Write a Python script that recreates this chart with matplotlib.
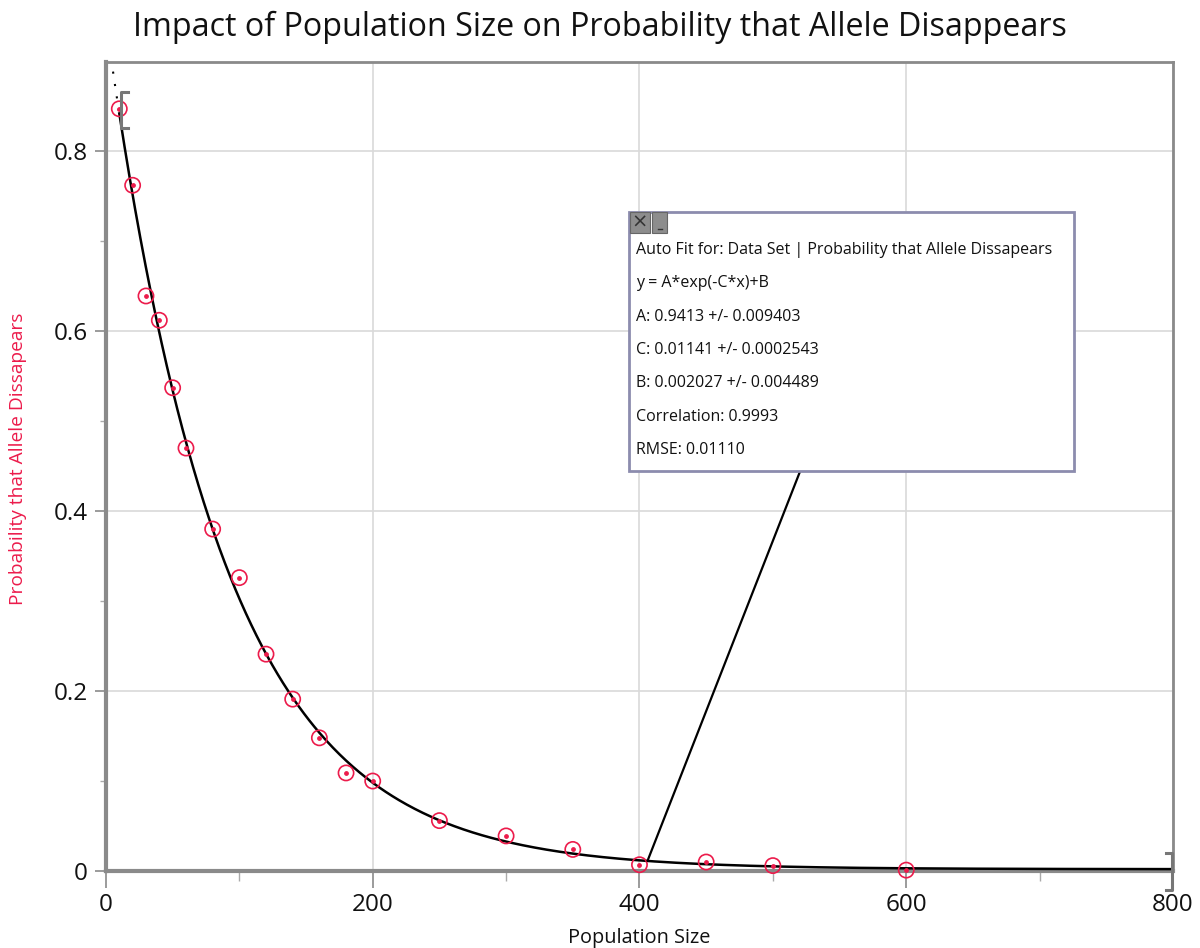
import numpy as np
import matplotlib
matplotlib.use("Agg")
import matplotlib.pyplot as plt
from matplotlib.patches import Rectangle, ConnectionPatch

plt.rcParams['font.family'] = ['Open Sans', 'DejaVu Sans']

# Data
population = [10, 20, 30, 40, 50, 60, 80, 100, 120, 140, 160, 180, 200,
              250, 300, 350, 400, 450, 500, 600]
probability = [0.847, 0.762, 0.639, 0.612, 0.537, 0.470, 0.380, 0.326, 0.241,
               0.191, 0.148, 0.109, 0.100, 0.056, 0.039, 0.024, 0.007, 0.010,
               0.006, 0.001]

# Fit parameters (shown in the fit box)
A = 0.9413
C = 0.01141
B = 0.002027
fit_lines = [
    "Auto Fit for: Data Set | Probability that Allele Dissapears",
    "y = A*exp(-C*x)+B",
    "A: 0.9413 +/- 0.009403",
    "C: 0.01141 +/- 0.0002543",
    "B: 0.002027 +/- 0.004489",
    "Correlation: 0.9993",
    "RMSE: 0.01110",
]

x_ticks = [0, 200, 400, 600, 800]
y_ticks = [0, 0.2, 0.4, 0.6, 0.8]
y_tick_labels = ["0", "0.2", "0.4", "0.6", "0.8"]

red = '#ec1b4b'
spine_gray = '#8a8a8a'

fig = plt.figure(figsize=(12, 9.48), dpi=100)
ax = fig.add_axes([0.0883, 0.0812, 0.8892, 0.8534])
ax.set_xlim(0, 800)
ax.set_ylim(0, 0.899)

# Grid
ax.set_xticks(x_ticks)
ax.set_yticks(y_ticks)
ax.set_yticklabels(y_tick_labels)
ax.set_xticks([100, 300, 500, 700], minor=True)
ax.set_yticks([0.1, 0.3, 0.5, 0.7], minor=True)
ax.grid(True, which='major', color='#d9d9d9', linewidth=1.2)
ax.set_axisbelow(True)

ax.tick_params(which='major', direction='out', length=8, width=1.2, color=spine_gray,
               labelsize=17.5, pad=5, labelcolor='#111111')
ax.tick_params(which='minor', direction='out', length=4, width=1, color='#aaaaaa')
ax.tick_params(axis='x', which='major', length=12, pad=4)
ax.tick_params(axis='x', which='minor', length=7)

for side in ['left', 'bottom']:
    ax.spines[side].set_color(spine_gray)
    ax.spines[side].set_linewidth(3)
for side in ['top', 'right']:
    ax.spines[side].set_color(spine_gray)
    ax.spines[side].set_linewidth(2)

# Fit curve
xf = np.linspace(min(population), 800, 800)
yf = A * np.exp(-C * xf) + B
ax.plot(xf, yf, color='black', linewidth=1.8, zorder=3)
# extrapolated dotted part
xe = np.linspace(0, min(population), 200)
ye = A * np.exp(-C * xe) + B
ax.plot(xe, ye, color='black', linewidth=1.5, linestyle=(0, (1, 5)), zorder=3)

# Data points: open circles with center dot
ax.scatter(population, probability, s=120, facecolors='none', edgecolors=red,
           linewidths=1.2, zorder=4, clip_on=False)
ax.scatter(population, probability, s=6, color=red, zorder=5, clip_on=False)

# Range brackets
bx0 = min(population) + 1.5
ax.plot([bx0 + 5, bx0, bx0, bx0 + 5], [0.866, 0.866, 0.826, 0.826],
        color='#777777', linewidth=2.2, zorder=6, clip_on=False)
bx1 = 799
ax.plot([bx1 - 4, bx1, bx1, bx1 - 4], [0.020, 0.020, -0.021, -0.021],
        color='#777777', linewidth=2.2, zorder=6, clip_on=False)

# Fit box
bx_l, bx_b, bx_w, bx_h = 0.490, 0.494, 0.417, 0.321
ax.add_patch(Rectangle((bx_l, bx_b), bx_w, bx_h, transform=ax.transAxes,
                       facecolor='white', edgecolor='#8c8cae', linewidth=2, zorder=7))
# buttons
ax.add_patch(Rectangle((bx_l + 0.001, bx_b + bx_h - 0.026), 0.019, 0.025,
                       transform=ax.transAxes, facecolor='#8d8d8d',
                       edgecolor='#666666', linewidth=0.8, zorder=8))
ax.text(bx_l + 0.0105, bx_b + bx_h - 0.0135, '×', transform=ax.transAxes,
        ha='center', va='center', fontsize=14, color='#333333', zorder=9,
        family='DejaVu Sans')
ax.add_patch(Rectangle((bx_l + 0.022, bx_b + bx_h - 0.026), 0.014, 0.025,
                       transform=ax.transAxes, facecolor='#8d8d8d',
                       edgecolor='#666666', linewidth=0.8, zorder=8))
ax.plot([bx_l + 0.027, bx_l + 0.031], [bx_b + bx_h - 0.021, bx_b + bx_h - 0.021],
        transform=ax.transAxes, color='#333333', linewidth=1, zorder=9)

line_top = bx_b + bx_h - 0.0475
step = 0.0412
for i, s in enumerate(fit_lines):
    ax.text(bx_l + 0.0065, line_top - i * step, s, transform=ax.transAxes,
            ha='left', va='center', fontsize=11.5, color='#111111', zorder=9)

# Connector line from curve to box
x_anchor = 406
con = ConnectionPatch(xyA=(x_anchor, A * np.exp(-C * x_anchor) + B), coordsA=ax.transData,
                      xyB=(0.6505, bx_b), coordsB=ax.transAxes,
                      color='black', linewidth=1.6, zorder=6)
ax.add_artist(con)

# Labels
fig.text(0.5, 0.971, "Impact of Population Size on Probability that Allele Disappears",
         ha='center', va='center', fontsize=23.2, color='#111111')
ax.set_xlabel("Population Size", fontsize=14.3, color='#111111')
ax.xaxis.set_label_coords(0.5, -0.071)
ax.set_ylabel("Probability that Allele Dissapears", fontsize=13.8, color=red)
ax.yaxis.set_label_coords(-0.074, 0.51)

fig.savefig("out.png", dpi=100, facecolor='white')
